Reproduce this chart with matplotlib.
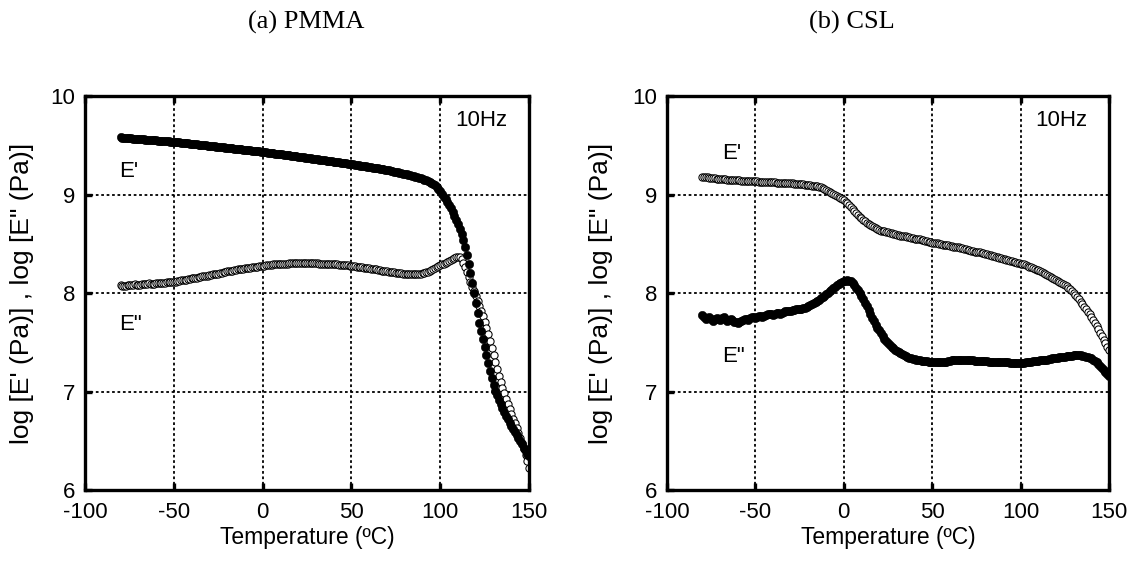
import matplotlib
matplotlib.use("Agg")
import matplotlib.pyplot as plt

# ---------------- data ----------------
titles = ["(a) PMMA", "(b) CSL"]
xlabel_text = "Temperature (ºC)"
ylabel_text = "log [E' (Pa)] , log [E\" (Pa)]"
x_ticks = [-100, -50, 0, 50, 100, 150]
y_ticks = [6, 7, 8, 9, 10]
freq_label = "10Hz"

# measurement temperatures (1 degC steps, -80 ... 150), shared by all series
temps = [-80, -79, -78, -77, -76, -75, -74, -73, -72, -71,
         -70, -69, -68, -67, -66, -65, -64, -63, -62, -61,
         -60, -59, -58, -57, -56, -55, -54, -53, -52, -51,
         -50, -49, -48, -47, -46, -45, -44, -43, -42, -41,
         -40, -39, -38, -37, -36, -35, -34, -33, -32, -31,
         -30, -29, -28, -27, -26, -25, -24, -23, -22, -21,
         -20, -19, -18, -17, -16, -15, -14, -13, -12, -11,
         -10, -9, -8, -7, -6, -5, -4, -3, -2, -1,
         0, 1, 2, 3, 4, 5, 6, 7, 8, 9,
         10, 11, 12, 13, 14, 15, 16, 17, 18, 19,
         20, 21, 22, 23, 24, 25, 26, 27, 28, 29,
         30, 31, 32, 33, 34, 35, 36, 37, 38, 39,
         40, 41, 42, 43, 44, 45, 46, 47, 48, 49,
         50, 51, 52, 53, 54, 55, 56, 57, 58, 59,
         60, 61, 62, 63, 64, 65, 66, 67, 68, 69,
         70, 71, 72, 73, 74, 75, 76, 77, 78, 79,
         80, 81, 82, 83, 84, 85, 86, 87, 88, 89,
         90, 91, 92, 93, 94, 95, 96, 97, 98, 99,
         100, 101, 102, 103, 104, 105, 106, 107, 108, 109,
         110, 111, 112, 113, 114, 115, 116, 117, 118, 119,
         120, 121, 122, 123, 124, 125, 126, 127, 128, 129,
         130, 131, 132, 133, 134, 135, 136, 137, 138, 139,
         140, 141, 142, 143, 144, 145, 146, 147, 148, 149,
         150]

# (a) PMMA  log E' (filled)
pmma_E1 = [9.580, 9.578, 9.577, 9.575, 9.574, 9.572, 9.571, 9.569, 9.568, 9.566,
           9.565, 9.563, 9.562, 9.560, 9.559, 9.557, 9.556, 9.554, 9.553, 9.551,
           9.550, 9.548, 9.547, 9.545, 9.544, 9.542, 9.541, 9.539, 9.538, 9.536,
           9.535, 9.533, 9.531, 9.529, 9.527, 9.525, 9.523, 9.521, 9.519, 9.517,
           9.515, 9.513, 9.511, 9.509, 9.507, 9.505, 9.503, 9.501, 9.499, 9.497,
           9.495, 9.493, 9.491, 9.489, 9.487, 9.485, 9.483, 9.481, 9.479, 9.477,
           9.475, 9.473, 9.471, 9.469, 9.467, 9.465, 9.463, 9.461, 9.459, 9.457,
           9.455, 9.453, 9.451, 9.449, 9.447, 9.445, 9.443, 9.441, 9.439, 9.437,
           9.435, 9.432, 9.430, 9.427, 9.425, 9.422, 9.420, 9.417, 9.415, 9.412,
           9.410, 9.407, 9.405, 9.402, 9.400, 9.397, 9.395, 9.392, 9.390, 9.387,
           9.385, 9.382, 9.380, 9.377, 9.375, 9.372, 9.370, 9.367, 9.365, 9.362,
           9.360, 9.357, 9.355, 9.352, 9.350, 9.347, 9.345, 9.342, 9.340, 9.337,
           9.335, 9.332, 9.330, 9.327, 9.325, 9.322, 9.320, 9.317, 9.315, 9.312,
           9.310, 9.307, 9.304, 9.301, 9.298, 9.295, 9.292, 9.289, 9.286, 9.283,
           9.280, 9.277, 9.274, 9.271, 9.268, 9.265, 9.262, 9.259, 9.256, 9.253,
           9.250, 9.246, 9.242, 9.238, 9.234, 9.230, 9.226, 9.222, 9.218, 9.214,
           9.210, 9.205, 9.200, 9.195, 9.190, 9.185, 9.180, 9.175, 9.170, 9.165,
           9.160, 9.152, 9.145, 9.137, 9.130, 9.120, 9.110, 9.095, 9.080, 9.060,
           9.040, 9.010, 8.980, 8.950, 8.920, 8.890, 8.860, 8.820, 8.780, 8.740,
           8.700, 8.650, 8.600, 8.540, 8.470, 8.390, 8.300, 8.200, 8.100, 8.000,
           7.900, 7.800, 7.700, 7.610, 7.530, 7.450, 7.370, 7.290, 7.210, 7.140,
           7.070, 7.010, 6.960, 6.910, 6.870, 6.830, 6.790, 6.750, 6.720, 6.680,
           6.650, 6.620, 6.590, 6.560, 6.530, 6.500, 6.470, 6.430, 6.400, 6.370,
           6.350]

# (a) PMMA  log E'' (open)
pmma_E2 = [8.080, 8.075, 8.070, 8.075, 8.080, 8.080, 8.080, 8.085, 8.090, 8.085,
           8.080, 8.085, 8.090, 8.090, 8.090, 8.095, 8.100, 8.095, 8.090, 8.095,
           8.100, 8.100, 8.100, 8.100, 8.100, 8.105, 8.110, 8.110, 8.110, 8.110,
           8.110, 8.115, 8.120, 8.125, 8.130, 8.130, 8.130, 8.135, 8.140, 8.145,
           8.150, 8.150, 8.150, 8.155, 8.160, 8.165, 8.170, 8.170, 8.170, 8.175,
           8.180, 8.185, 8.190, 8.190, 8.190, 8.195, 8.200, 8.205, 8.210, 8.215,
           8.220, 8.220, 8.220, 8.225, 8.230, 8.235, 8.240, 8.240, 8.240, 8.245,
           8.250, 8.250, 8.250, 8.255, 8.260, 8.260, 8.260, 8.265, 8.270, 8.270,
           8.270, 8.275, 8.280, 8.280, 8.280, 8.285, 8.290, 8.290, 8.290, 8.295,
           8.300, 8.300, 8.300, 8.300, 8.300, 8.305, 8.310, 8.310, 8.310, 8.310,
           8.310, 8.310, 8.310, 8.310, 8.310, 8.310, 8.310, 8.310, 8.310, 8.310,
           8.310, 8.305, 8.300, 8.300, 8.300, 8.300, 8.300, 8.295, 8.290, 8.290,
           8.290, 8.290, 8.290, 8.285, 8.280, 8.280, 8.280, 8.280, 8.280, 8.275,
           8.270, 8.270, 8.270, 8.265, 8.260, 8.260, 8.260, 8.255, 8.250, 8.250,
           8.250, 8.245, 8.240, 8.240, 8.240, 8.235, 8.230, 8.225, 8.220, 8.220,
           8.220, 8.215, 8.210, 8.210, 8.210, 8.205, 8.200, 8.200, 8.200, 8.195,
           8.190, 8.190, 8.190, 8.190, 8.190, 8.190, 8.190, 8.190, 8.190, 8.195,
           8.200, 8.205, 8.210, 8.215, 8.220, 8.230, 8.240, 8.250, 8.260, 8.270,
           8.280, 8.290, 8.300, 8.310, 8.320, 8.330, 8.340, 8.350, 8.360, 8.370,
           8.370, 8.370, 8.350, 8.310, 8.260, 8.210, 8.160, 8.110, 8.060, 8.020,
           7.970, 7.920, 7.870, 7.820, 7.770, 7.710, 7.650, 7.580, 7.510, 7.440,
           7.370, 7.300, 7.230, 7.160, 7.100, 7.040, 6.980, 6.920, 6.870, 6.820,
           6.770, 6.720, 6.680, 6.630, 6.580, 6.530, 6.480, 6.420, 6.360, 6.290,
           6.220]

# (b) CSL  log E' (open)
csl_E1 = [9.180, 9.180, 9.180, 9.175, 9.170, 9.170, 9.170, 9.165, 9.160, 9.160,
          9.160, 9.160, 9.160, 9.155, 9.150, 9.150, 9.150, 9.150, 9.150, 9.150,
          9.150, 9.145, 9.140, 9.140, 9.140, 9.140, 9.140, 9.140, 9.140, 9.140,
          9.140, 9.135, 9.130, 9.130, 9.130, 9.130, 9.130, 9.130, 9.130, 9.130,
          9.130, 9.125, 9.120, 9.120, 9.120, 9.120, 9.120, 9.120, 9.120, 9.120,
          9.120, 9.115, 9.110, 9.110, 9.110, 9.110, 9.110, 9.105, 9.100, 9.100,
          9.100, 9.095, 9.090, 9.090, 9.090, 9.085, 9.080, 9.075, 9.070, 9.060,
          9.050, 9.040, 9.030, 9.020, 9.010, 9.000, 8.990, 8.980, 8.970, 8.955,
          8.940, 8.925, 8.910, 8.890, 8.870, 8.850, 8.830, 8.810, 8.790, 8.775,
          8.760, 8.745, 8.730, 8.715, 8.700, 8.690, 8.680, 8.670, 8.660, 8.650,
          8.640, 8.635, 8.630, 8.625, 8.620, 8.615, 8.610, 8.605, 8.600, 8.595,
          8.590, 8.585, 8.580, 8.580, 8.580, 8.575, 8.570, 8.565, 8.560, 8.555,
          8.550, 8.550, 8.550, 8.545, 8.540, 8.535, 8.530, 8.525, 8.520, 8.515,
          8.510, 8.510, 8.510, 8.505, 8.500, 8.495, 8.490, 8.490, 8.490, 8.485,
          8.480, 8.475, 8.470, 8.470, 8.470, 8.465, 8.460, 8.455, 8.450, 8.445,
          8.440, 8.435, 8.430, 8.425, 8.420, 8.420, 8.420, 8.415, 8.410, 8.405,
          8.400, 8.395, 8.390, 8.385, 8.380, 8.375, 8.370, 8.365, 8.360, 8.355,
          8.350, 8.345, 8.340, 8.335, 8.330, 8.325, 8.320, 8.315, 8.310, 8.305,
          8.300, 8.295, 8.290, 8.280, 8.270, 8.265, 8.260, 8.250, 8.240, 8.235,
          8.230, 8.220, 8.210, 8.200, 8.190, 8.180, 8.170, 8.160, 8.150, 8.140,
          8.130, 8.120, 8.110, 8.100, 8.090, 8.080, 8.070, 8.055, 8.040, 8.020,
          8.000, 7.980, 7.960, 7.935, 7.910, 7.885, 7.860, 7.835, 7.810, 7.785,
          7.760, 7.730, 7.700, 7.665, 7.630, 7.595, 7.560, 7.525, 7.490, 7.455,
          7.420]

# (b) CSL  log E'' (filled)
csl_E2 = [7.780, 7.760, 7.740, 7.750, 7.760, 7.740, 7.720, 7.735, 7.750, 7.740,
          7.730, 7.745, 7.760, 7.740, 7.720, 7.730, 7.740, 7.725, 7.710, 7.705,
          7.700, 7.710, 7.720, 7.730, 7.740, 7.735, 7.730, 7.745, 7.760, 7.755,
          7.750, 7.760, 7.770, 7.765, 7.760, 7.770, 7.780, 7.785, 7.790, 7.785,
          7.780, 7.790, 7.800, 7.795, 7.790, 7.800, 7.810, 7.815, 7.820, 7.820,
          7.820, 7.825, 7.830, 7.835, 7.840, 7.840, 7.840, 7.845, 7.850, 7.860,
          7.870, 7.880, 7.890, 7.900, 7.910, 7.920, 7.930, 7.945, 7.960, 7.975,
          7.990, 8.005, 8.020, 8.035, 8.050, 8.065, 8.080, 8.090, 8.100, 8.110,
          8.120, 8.125, 8.130, 8.125, 8.120, 8.100, 8.080, 8.055, 8.030, 8.000,
          7.970, 7.935, 7.900, 7.865, 7.830, 7.790, 7.750, 7.715, 7.680, 7.650,
          7.620, 7.590, 7.560, 7.535, 7.510, 7.490, 7.470, 7.455, 7.440, 7.425,
          7.410, 7.400, 7.390, 7.380, 7.370, 7.360, 7.350, 7.345, 7.340, 7.335,
          7.330, 7.325, 7.320, 7.315, 7.310, 7.310, 7.310, 7.305, 7.300, 7.300,
          7.300, 7.300, 7.300, 7.300, 7.300, 7.300, 7.300, 7.300, 7.300, 7.305,
          7.310, 7.315, 7.320, 7.320, 7.320, 7.320, 7.320, 7.320, 7.320, 7.320,
          7.320, 7.320, 7.320, 7.315, 7.310, 7.310, 7.310, 7.310, 7.310, 7.310,
          7.310, 7.305, 7.300, 7.300, 7.300, 7.300, 7.300, 7.300, 7.300, 7.300,
          7.300, 7.300, 7.300, 7.295, 7.290, 7.290, 7.290, 7.290, 7.290, 7.290,
          7.290, 7.290, 7.290, 7.295, 7.300, 7.300, 7.300, 7.305, 7.310, 7.310,
          7.310, 7.315, 7.320, 7.320, 7.320, 7.325, 7.330, 7.335, 7.340, 7.340,
          7.340, 7.345, 7.350, 7.350, 7.350, 7.355, 7.360, 7.360, 7.360, 7.365,
          7.370, 7.370, 7.370, 7.370, 7.370, 7.365, 7.360, 7.355, 7.350, 7.345,
          7.340, 7.325, 7.310, 7.295, 7.280, 7.260, 7.240, 7.220, 7.200, 7.180,
          7.160]

# ---------------- style ----------------
plt.rcParams['font.family'] = ['Liberation Sans', 'DejaVu Sans']
fig = plt.figure(figsize=(11.4, 5.63), dpi=100)

axes_rects = [[0.0746, 0.1297, 0.3895, 0.6996],
              [0.5851, 0.1297, 0.3877, 0.6996]]
title_x = [0.269, 0.747]
ylabel_x = [-0.142, -0.150]

# (series values, style) in drawing order for each panel
panels = [
    [(pmma_E2, 'open'), (pmma_E1, 'filled')],
    [(csl_E1, 'open'), (csl_E2, 'filled')],
]
label_pos = [((-81, 9.23), (-81, 7.68)), ((-69, 9.42), (-69, 7.36))]

for i, ax_rect in enumerate(axes_rects):
    ax = fig.add_axes(ax_rect)
    for E, s in panels[i]:
        if s == 'filled':
            ax.plot(temps, E, linestyle='none', marker='o', markersize=6,
                    markerfacecolor='black', markeredgecolor='black',
                    markeredgewidth=0.4, zorder=4)
        else:
            ax.plot(temps, E, linestyle='none', marker='o', markersize=5.2,
                    markerfacecolor='white', markeredgecolor='black',
                    markeredgewidth=0.75, zorder=3)
    ax.set_xlim(-100, 150)
    ax.set_ylim(6, 10)
    ax.set_xticks(x_ticks)
    ax.set_yticks(y_ticks)
    ax.set_xticklabels([str(t) for t in x_ticks])
    ax.set_yticklabels([str(t) for t in y_ticks])
    ax.grid(True, color='black', linestyle=(0, (1.5, 1.5)), linewidth=1.3, zorder=1)
    ax.set_axisbelow(True)
    for sp in ax.spines.values():
        sp.set_linewidth(2.4)
        sp.set_zorder(5)
    ax.tick_params(direction='in', length=5, width=2.4, labelsize=16,
                   top=True, right=False)
    ax.tick_params(axis='x', pad=9)
    ax.tick_params(axis='y', pad=7)
    ax.set_xlabel(xlabel_text, fontsize=16.5, va='center')
    ax.xaxis.set_label_coords(0.5, -0.12)
    ax.set_ylabel(ylabel_text, fontsize=19, va='center')
    ax.yaxis.set_label_coords(ylabel_x[i], 0.5)
    (x1, y1), (x2, y2) = label_pos[i]
    ax.text(x1, y1, "E'", fontsize=16, ha='left', va='center')
    ax.text(x2, y2, 'E"', fontsize=16, ha='left', va='center')
    ax.text(108.5, 9.75, freq_label, fontsize=16, ha='left', va='center')
    fig.text(title_x[i], 0.961, titles[i], fontsize=19, ha='center', va='center',
             family=['Liberation Serif', 'DejaVu Serif'])

fig.savefig('out.png', dpi=100)
